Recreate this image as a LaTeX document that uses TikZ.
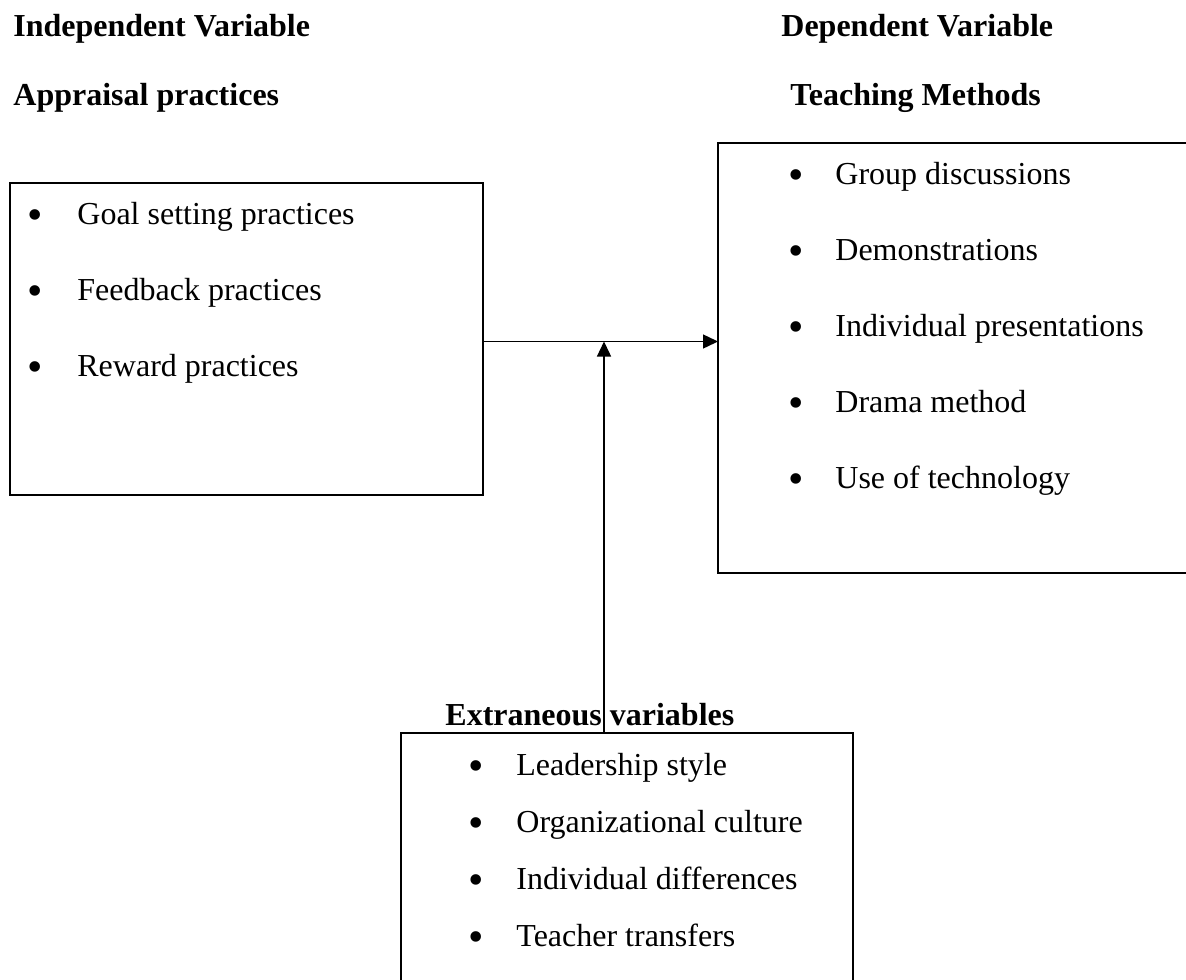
\documentclass[tikz,border=0pt]{standalone}
\usepackage{fontspec}
\setmainfont{Liberation Serif}
\usetikzlibrary{arrows.meta}

\tikzset{
  box/.style={draw=black,line width=0.7pt,inner sep=0pt,outer sep=0pt},
  head/.style={anchor=base west,inner sep=0pt,font=\fontsize{16}{19}\selectfont\bfseries},
  item/.style={anchor=base west,inner sep=0pt,font=\fontsize{16}{19}\selectfont},
  bul/.style={anchor=base,inner sep=0pt,font=\fontsize{22}{26}\selectfont},
  link/.style={draw=black,line width=0.7pt,-{Triangle[length=7.5pt,width=7pt]}}
}

\begin{document}
\begin{tikzpicture}[x=0.5pt,y=-0.5pt]
\useasboundingbox (0,0) rectangle (1186,979);
\clip (0,0) rectangle (1186,979);
% headings:
\node[head] (indep) at (13,37) {Independent Variable};
\node[head] (apprhead) at (13,105) {Appraisal practices};
\node[head] (dep) at (781,37) {Dependent Variable};
\node[head] (teachhead) at (790,105) {Teaching Methods};
\node[head] (exthead) at (445,725) {Extraneous variables};
% boxes:
\node[box,minimum width=236.5pt,minimum height=156pt] (apprbox) at (246.5,339) {};
\node[box,minimum width=241pt,minimum height=215pt] (teachbox) at (959,358) {};
\node[box,minimum width=226pt,minimum height=138.5pt] (extbox) at (627,871.5) {};
% items:
\foreach \t [count=\i] in {Goal setting practices,Feedback practices,Reward practices} {
  \node[bul] (apprdot\i) at (35,{153+76*\i}) {•};
  \node[item] (appritem\i) at (77,{148+76*\i}) {\t};
}
\foreach \t [count=\i] in {Group discussions,Demonstrations,Individual presentations,Drama method,Use of technology} {
  \node[bul] (teachdot\i) at (796,{113+76*\i}) {•};
  \node[item] (teachitem\i) at (835,{108+76*\i}) {\t};
}
\foreach \t [count=\i] in {Leadership style,Organizational culture,Individual differences,Teacher transfers} {
  \node[bul] (extdot\i) at (476,{723+57*\i}) {•};
  \node[item] (extitem\i) at (516,{718+57*\i}) {\t};
}
% arrows:
\coordinate (meet) at (604,341.5);
\draw[link] (apprbox.east |- meet) -- (teachbox.west |- meet);
\draw[link] (extbox.north -| meet) -- (meet);
\end{tikzpicture}
\end{document}
